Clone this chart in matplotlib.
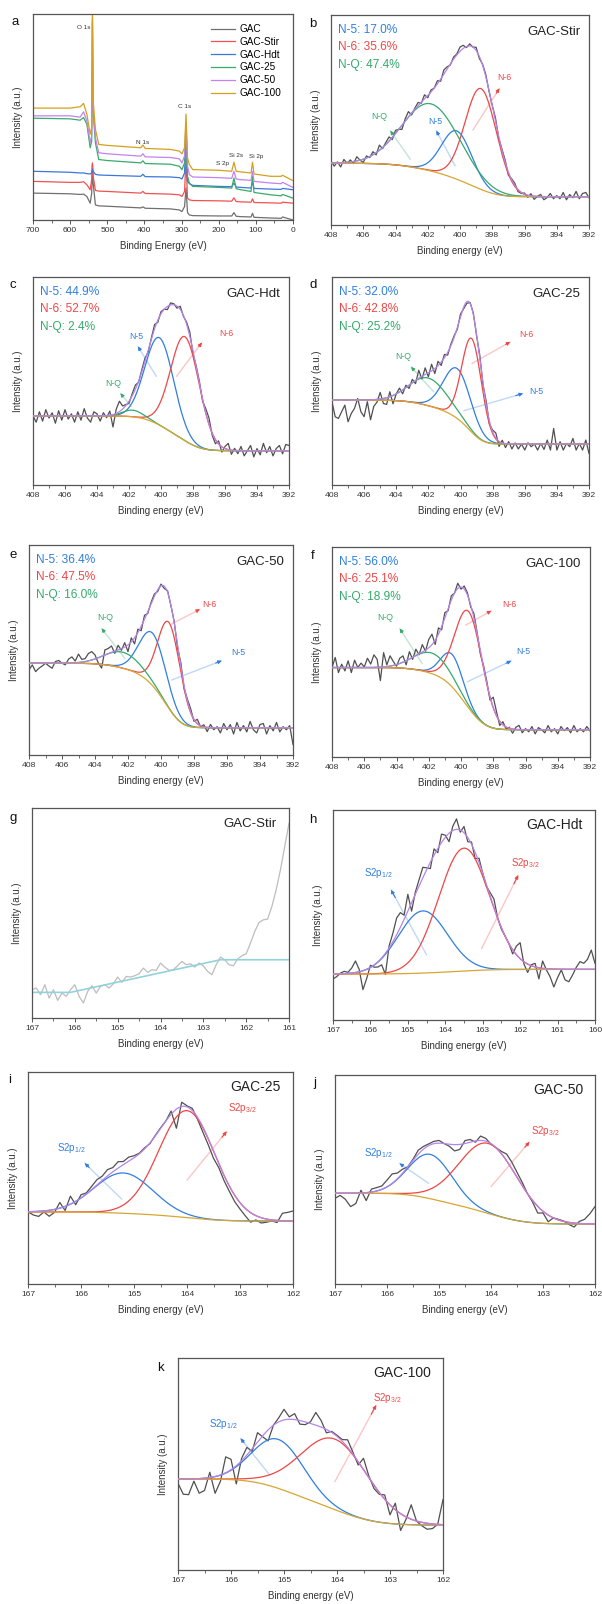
import numpy as np
import matplotlib
matplotlib.use('Agg')
import matplotlib.pyplot as plt
from matplotlib.ticker import MultipleLocator

plt.rcParams['font.family'] = ['Liberation Sans', 'DejaVu Sans']
plt.rcParams['mathtext.fontset'] = 'custom'
plt.rcParams['mathtext.rm'] = 'Liberation Sans'

GRAY = '#505050'
BLUE = '#2f7ee0'
RED = '#ef4646'
GREEN = '#36a96c'
PURPLE = '#b685e6'
GOLD = '#d6a630'

# ---------- panel a: survey spectra ----------
survey_be = [700, 600, 573, 564, 555, 546, 542, 540, 538, 532, 523, 500, 410, 404, 398, 330,
             306, 299, 292, 288, 284, 279, 270, 200, 165, 159, 153, 140, 113, 109, 105, 60, 32, 28, 0]
gac = [80, 78, 76, 77, 70, 50, 80, 165, 110, 45, 42, 41, 36, 39, 35, 33, 30, 25, 40, 95,
       22, 15, 13, 12, 12, 22, 11, 10, 9, 20, 8, 6, 5, 9, 0]
gac_stir = [115, 112, 112, 114, 105, 90, 120, 170, 130, 88, 86, 85, 80, 85, 79, 77, 75, 70, 85, 180,
            65, 60, 58, 57, 56, 66, 55, 54, 53, 63, 52, 51, 50, 53, 50]
gac_hdt = [145, 142, 140, 140, 138, 137, 140, 150, 145, 136, 134, 133, 130, 136, 129, 128, 126, 122, 140, 250,
           115, 108, 103, 100, 99, 110, 98, 97, 95, 115, 94, 92, 91, 94, 90]
gac_25 = [303, 301, 297, 305, 285, 215, 235, 590, 320, 230, 180, 177, 170, 176, 168, 166, 160, 150, 170, 280,
          130, 110, 100, 97, 95, 125, 93, 90, 85, 130, 82, 75, 72, 76, 65]
gac_50 = [310, 310, 306, 322, 295, 230, 250, 600, 330, 245, 200, 197, 190, 197, 188, 186, 182, 170, 190, 290,
          160, 135, 128, 126, 124, 145, 122, 120, 118, 145, 115, 110, 108, 112, 97]
gac_100 = [333, 333, 337, 347, 315, 255, 275, 640, 355, 270, 225, 222, 215, 223, 213, 210, 205, 197, 215, 315,
           185, 165, 150, 148, 145, 172, 145, 143, 140, 172, 137, 130, 130, 133, 117]
survey_names = ['GAC', 'GAC-Stir', 'GAC-Hdt', 'GAC-25', 'GAC-50', 'GAC-100']
survey_colors = ['#707070', '#f05252', '#3a78d8', '#3aaa6a', '#c282f0', '#d4a020']
peak_names = ['O 1s', 'N 1s', 'C 1s', 'S 2p', 'Si 2s', 'Si 2p']
peak_be = [564, 406, 292, 190, 152, 98]
peak_y = [573, 230, 337, 167, 192, 190]

# ---------- N 1s panels (b-f): residual noise of raw data, % of axis height, 408 -> 392 eV ----------
b_res = [1, -1.5, 0.5, -2, 1.5, -0.5, 1, -1, 2, 0,
         -1.5, 1, -0.5, 1.5, -1, 2.5, -0.5, 1, 2, -1,
         1.5, 0, -2, 1, 2.5, -1, 0.5, 1.5, -0.5, 2,
         -1, 1, 0, 1.5, -1, 2, 1, -0.5, 1, 0.5,
         2, 1.5, -0.5, 1, 0, 1.5, -1, 0.5, 1, -0.5,
         0, 1.5, -1, 0.5, 1, -1.5, 0.5, 1, -1, -0.5,
         0.5, -1, 1, -1.5, 0, 1, -1.5, -0.5, 1.5, -1,
         0.5, -1, 2, -1.5, 1, -0.5, 2.5, -1, 1.5, 2,
         -0.5]
c_res = [0, -3, 2, -2.5, 3, -1, 1.5, -3.5, 2.5, -2,
         3, -1.5, 1, -3, 2, -2, 3.5, -1, -3, 2,
         1, -2.5, 1.5, -1, 2, -6, 2, 5, 1.5, 0.5,
         -1, 1, 2, -0.5, 1, 1.5, -1, 0.5, 2, -1,
         1, 0, -1.5, 1, 0.5, -1, 1.5, -0.5, 1, 2,
         -1.5, 0.5, 1, -1, 2, 3, -1, -2, 1.5, -2.5,
         1, 3, -2, 1, -1.5, 2, -2.5, 0, 2.5, -3,
         1, -2, 3.5, -1, 2, -2.5, 1, 2.5, -1.5, 3,
         2.5]
d_res = [-0.8, -8, -8.8, -5.6, -2.4, -10.4, -6.4, -4, 0.8, -5.6,
         -8, -0.8, -9.6, -3.2, -1.3, 3.2, -2.4, -3.2, 2.4, -4,
         0, 1.9, -1.9, 1.1, -1.6, 1.6, -1.6, 3.8, -1.3, 3.2,
         -1.9, 3.2, -2.4, 2.1, -1.6, 1.6, -1.3, 0.8, 0.8, -0.8,
         1.3, -0.8, -0.8, 0.5, 0.8, -0.8, 1.6, -0.8, 1.6, -1.6,
         0.8, 2.4, -2.4, 1.3, -1.9, 1.1, -2.4, 0.5, -2.4, 0,
         -2.9, 0.6, -1.3, 0, -2.9, 0.3, -2.6, 1.9, -2.9, 7.5,
         -2.9, 1.1, -2.9, 0.3, -1.3, 2.7, -2.9, 0.3, -2.9, 1.9,
         -4.5]
e_res = [-3.2, -0.8, -4, -2.4, -1.3, 0, -1.3, -2.4, 0.8, 1.3,
         0, -0.8, 1.9, 2.9, 0.8, 4, 1.3, 1.4, 3.5, 4,
         1.9, -2.5, -5.6, 2.4, 2.4, 3, -1.1, 2.2, -0.8, 2.1,
         -3.2, 1.9, -2.9, 1.6, -2.1, 1.9, -0.8, 0.8, 1.1, -0.8,
         0.8, -1.1, 0.8, -0.3, 0.8, -1.6, 1.6, -1.6, 0.8, 1.5,
         -1, 2, -0.5, 1, -2, 1.5, -1, 0.5, -2.5, 2,
         -1, 1.5, -3, 2.5, -1.5, 1, -2, 3, -1, -2.5,
         1.5, 2, -3, 1, -1.5, 2.5, -2, 0.5, -1, 1,
         -8]
f_res = [0, 4.8, -2.4, 1.6, -1.6, 3.2, -2.4, 3.5, 0, 2.1,
         0.3, 4.4, 1.6, 6, 3.8, -6.4, 6.8, 0.8, 4.9, 1.9,
         -0.8, 2.5, 3, -2, 3.5, -1, 3, -0.5, 3.5, -0.5,
         4, 5, -2, 3, -1.5, 2.5, -1, 2, 0, 2.5,
         -1, 1.5, 1, -1, 2, 0.5, -1.5, 1, 1, -1.5,
         5, 2, -2, 1.5, -1, 0.5, -2, 1, 2, -1.5,
         0.5, -1, 1.5, -2, 1, 0, -1.5, 2, -1, 0.5,
         -2, 1.5, -0.5, 1, -1.5, 2, -1, 0.5, -1, 1.5,
         -0.5]
# background (high-BE level, low-BE level) and peaks (centre eV, FWHM eV, height %)
b_bg, b_n5, b_n6, b_nq = (29.4, 13.5), (400.2, 2.2, 23), (398.7, 2.3, 48), (401.8, 4.2, 32)
c_bg, c_n5, c_n6, c_nq = (33.2, 16.5), (400.1, 2.1, 42), (398.5, 2.1, 50), (401.75, 1.5, 3.2)
d_bg, d_n5, d_n6, d_nq = (40.8, 19.7), (400.2, 2.0, 24), (399.3, 1.45, 45), (402.0, 2.8, 13.3)
e_bg, e_n5, e_n6, e_nq = (43.7, 13.0), (400.5, 1.9, 25), (399.5, 1.6, 41), (402.3, 2.6, 7.6)
f_bg, f_n5, f_n6, f_nq = (42.6, 13.0), (400.55, 1.6, 15.5), (399.5, 2.0, 46), (401.8, 2.7, 9.8)
b_pct = ['N-5: 17.0%', 'N-6: 35.6%', 'N-Q: 47.4%']
c_pct = ['N-5: 44.9%', 'N-6: 52.7%', 'N-Q: 2.4%']
d_pct = ['N-5: 32.0%', 'N-6: 42.8%', 'N-Q: 25.2%']
e_pct = ['N-5: 36.4%', 'N-6: 47.5%', 'N-Q: 16.0%']
f_pct = ['N-5: 56.0%', 'N-6: 25.1%', 'N-Q: 18.9%']
# annotation: label, colour, text pos, arrow tail, arrow head
b_notes = [('N-6', RED, (397.26, 70.3), (399.2, 45.2), (397.55, 65.1)),
           ('N-Q', GREEN, (404.98, 51.6), (403.08, 31.3), (404.32, 44.9)),
           ('N-5', BLUE, (401.55, 49.2), (400.3, 28.1), (401.47, 44.9))]
c_notes = [('N-5', BLUE, (401.54, 71.4), (400.29, 52.2), (401.44, 66.6)),
           ('N-6', RED, (395.92, 72.7), (399.04, 52.2), (397.44, 68.5)),
           ('N-Q', GREEN, (403.0, 49.0), (401.85, 37.7), (402.54, 44.1))]
d_notes = [('N-6', RED, (395.9, 72.5), (399.29, 58.4), (396.9, 68.8)),
           ('N-Q', GREEN, (403.54, 61.9), (401.67, 44.8), (403.08, 56.8)),
           ('N-5', BLUE, (395.28, 44.8), (399.8, 35.7), (396.11, 44.0))]
e_notes = [('N-6', RED, (397.07, 71.9), (399.36, 62.4), (397.64, 69.4)),
           ('N-Q', GREEN, (403.4, 65.4), (402.19, 46.0), (403.6, 60.3)),
           ('N-5', BLUE, (395.31, 48.7), (399.36, 35.7), (396.32, 44.9))]
f_notes = [('N-6', RED, (397.03, 72.7), (399.72, 62.8), (398.12, 69.6)),
           ('N-Q', GREEN, (404.69, 66.2), (402.41, 44.5), (403.8, 61.2)),
           ('N-5', BLUE, (396.14, 50.1), (399.61, 35.8), (396.88, 45.8))]

# ---------- S 2p panels ----------
g_raw = [85, 90, 70, 100, 60, 85, 53, 75, 65, 85,
         100, 65, 45, 80, 97, 75, 95, 100, 90, 103,
         123, 107, 125, 123, 127, 133, 150, 137, 145, 143,
         165, 153, 143, 145, 157, 170, 160, 163, 153, 165,
         157, 140, 130, 160, 183, 175, 160, 157, 177, 187,
         193, 225, 260, 287, 295, 297, 335, 385, 445, 515,
         585]
g_base_be = [167, 166.1, 162.6, 161]
g_base_y = [77, 77, 175, 175]

h_res = [-2.4, -1.3, 0.3, 1.1, 0.5, 2.4, 5.5, 1.1, -9, -4.4,
         1, -1.1, -2.5, -3.3, -10, 1, 4, 8, 7, 2,
         8, -4, 1, 3, 5, 1, -3, 3, -2, 4,
         1, -4, 2, 5, -1, 3, -2, 1, -3, 2,
         0, -0.8, 1.6, 4, 0, -0.8, 0, 0, -2, 4.1,
         7.6, -1, -4, 0.5, 1.7, -5.3, 3.5, -0.5, -3.7, -8.5,
         -4, -0.3, -5, -5.9, -2.7, 1, 3.7, 2.9, 4.8, 9.2,
         2.9]
i_res = [0, -1.6, -2.4, -0.5, -2.8, -1.4, 2.7, -1.9, 3.8, -1.6,
         1.5, 0.5, 1.5, 2.5, 2, 3, 2, 3, 1.5, 2,
         1, 0.3, 0.5, -0.3, 0.3, 0.3, 0, 1.5, -9, 2,
         0.5, 1, -1, -2.5, -3, -3.5, -2, -2.5, -2.5, -3,
         -3, -3.5, -4.5, -2, -2.5, -1.5, -0.5, -1, 3.5, 4,
         4.7]
j_res = [-2.4, -1, -2.9, -6.4, -5, 1.3, -3.8, 1.4, 1.6, 1.6,
         3.2, 4.5, 2.7, 1.9, 0, 0.5, 1.9, 1.3, 0.8, 1.1,
         1.3, 0, -1, -3, -2.4, 1.4, 1.3, -0.6, 2.1, 1.3,
         -0.3, 0, 1, 3.2, 3.2, 2.4, 1.6, 0, -0.8, -3.2,
         -0.8, -3.2, 0, 0.3, 0.2, -1, -1.9, 1, 2.1, 4.8,
         8.3]
k_res = [-2, -7.2, -7.4, -1.1, -6.9, -5.8, 2.5, -7.9, -3, 7.5,
         4.9, -8.6, 1.1, 3.6, -1.3, 4.4, -0.6, -5.2, 0, 1.9,
         5, 1.1, 2.8, -1.7, -1.3, 0.8, 6, 3.1, -1.6, 0.5,
         0.5, 0.8, 3.5, 0.9, -1.6, 5.3, 0.8, -1.6, -0.8, 2,
         -4.7, 3.1, -7.9, -1.3, 6.8, 0, -1.6, -2.8, -2.2, 0,
         11.8]
h_bg, h_s12, h_s32 = (21.9, 24.1), (164.6, 1.55, 29.6), (163.5, 1.6, 58.5)
i_bg, i_s12, i_s32 = (34.0, 29.7), (165.2, 1.3, 19.0), (164.0, 1.25, 50.5)
j_bg, j_s12, j_s32 = (43.4, 28.7), (165.17, 1.0, 21.2), (164.05, 1.32, 33.5)
k_bg, k_s12, k_s32 = (42.9, 21.2), (165.11, 1.15, 23.1), (164.04, 1.5, 33.3)
S12 = r'S2p$_{\mathregular{1/2}}$'
S32 = r'S2p$_{\mathregular{3/2}}$'
h_notes = [(S12, BLUE, (165.8, 70), (164.5, 31), (165.45, 62)),
           (S32, RED, (161.85, 75), (163.03, 34), (162.05, 69))]
i_notes = [(S12, BLUE, (166.18, 64), (165.23, 40), (165.93, 57)),
           (S32, RED, (162.95, 83), (164.0, 49), (163.25, 72))]
j_notes = [(S12, BLUE, (166.17, 62.5), (165.2, 48.2), (165.76, 57.7)),
           (S32, RED, (162.96, 73), (164.0, 46.6), (163.26, 68))]
k_notes = [(S12, BLUE, (166.14, 68.9), (165.27, 44.8), (165.82, 62.1)),
           (S32, RED, (163.06, 81), (164.04, 41.7), (163.26, 77.8))]

W, H = 602, 1604
fig = plt.figure(figsize=(W / 100, H / 100), dpi=100)


def add_ax(l, t, w, h):
    return fig.add_axes([l / W, 1 - (t + h) / H, w / W, h / H])


def gauss(x, c, w, h):
    return h * np.exp(-4 * np.log(2) * ((x - c) / w) ** 2)


def shirley(signal, high, low):
    cum = np.cumsum(signal[::-1])[::-1]
    return low + (high - low) * cum / cum[0]


def style(ax, xlim, major, minor, ylim=(0, 100), xlabel='Binding energy (eV)'):
    wpx = ax.get_position().width * W
    hpx = ax.get_position().height * H
    ax.set_xlim(*xlim)
    ax.set_ylim(*ylim)
    ax.xaxis.set_major_locator(MultipleLocator(major))
    ax.xaxis.set_minor_locator(MultipleLocator(minor))
    ax.set_yticks([])
    ax.tick_params(axis='x', which='major', direction='out', length=3, width=0.7,
                   labelsize=6.1, pad=2.2, color='#555', labelcolor='#333')
    ax.tick_params(axis='x', which='minor', direction='out', length=1.8, width=0.6, color='#555')
    for s in ax.spines.values():
        s.set_color('#555')
        s.set_linewidth(0.9)
    ax.set_xlabel(xlabel, fontsize=7, color='#333')
    ax.xaxis.set_label_coords(0.5, -21 / hpx)
    ax.set_ylabel('Intensity (a.u.)', fontsize=7, color='#333')
    ax.yaxis.set_label_coords(-10 / wpx, 0.5)


def arrow(ax, tail, head, color):
    ax.annotate('', xy=head, xytext=tail,
                arrowprops=dict(arrowstyle='-', color=color, alpha=0.3, lw=1.0, shrinkA=0, shrinkB=0))
    near = (head[0] + (tail[0] - head[0]) * 0.12, head[1] + (tail[1] - head[1]) * 0.12)
    ax.annotate('', xy=head, xytext=near,
                arrowprops=dict(arrowstyle='-|>', color=color, lw=0.8, mutation_scale=5,
                                shrinkA=0, shrinkB=0))


def title(ax, text, dx, dy, size):
    wpx = ax.get_position().width * W
    hpx = ax.get_position().height * H
    ax.text(1 - dx / wpx, 1 - dy / hpx, text, transform=ax.transAxes,
            ha='right', va='center', fontsize=size, color='#222')


def fit_panel(ax, x0, x1, res, bg, peaks, colors, notes, lab_size):
    step = 10
    x = np.linspace(x0, x1, (len(res) - 1) * step + 1)
    comps = [gauss(x, *p) for p in peaks]
    tot = np.sum(comps, axis=0)
    base = shirley(tot, *bg)
    env = base + tot
    ax.plot(x[::step], env[::step] + np.array(res), color=GRAY, lw=0.9, zorder=2)
    for comp, col in zip(comps, colors):
        ax.plot(x, base + comp, color=col, lw=0.9, zorder=3)
    ax.plot(x, base, color=GOLD, lw=0.9, zorder=4)
    ax.plot(x, env, color=PURPLE, lw=0.9, zorder=5)
    for lab, col, txy, tail, head in notes:
        ax.text(txy[0], txy[1], lab, color=col, fontsize=lab_size, ha='center', va='center')
        arrow(ax, tail, head, col)


# ----- a -----
ax = add_ax(33, 14, 260, 206)
for series, name, col in zip([gac, gac_stir, gac_hdt, gac_25, gac_50, gac_100], survey_names, survey_colors):
    ax.plot(survey_be, series, color=col, lw=0.9, label=name)
for name, px, py in zip(peak_names, peak_be, peak_y):
    ax.text(px, py, name, fontsize=4.6, color='#333', ha='center', va='center')
style(ax, (700, 0), 100, 50, ylim=(0, 613), xlabel='Binding Energy (eV)')
ax.legend(loc='upper right', bbox_to_anchor=(1 - 5 / 260, 1 - 3 / 206), frameon=False, fontsize=7.2,
          handlelength=2.4, handletextpad=0.45, labelspacing=0.28, borderpad=0.2)

# ----- b-f -----
n_specs = [
    ((331, 15, 258, 210), b_res, b_bg, b_n5, b_n6, b_nq, b_pct, b_notes, 'GAC-Stir'),
    ((33, 277, 256, 208), c_res, c_bg, c_n5, c_n6, c_nq, c_pct, c_notes, 'GAC-Hdt'),
    ((332, 277, 257, 208), d_res, d_bg, d_n5, d_n6, d_nq, d_pct, d_notes, 'GAC-25'),
    ((29, 545, 264, 210), e_res, e_bg, e_n5, e_n6, e_nq, e_pct, e_notes, 'GAC-50'),
    ((332, 547, 258, 210), f_res, f_bg, f_n5, f_n6, f_nq, f_pct, f_notes, 'GAC-100'),
]
for box, res, bg, n5, n6, nq, pct, notes, name in n_specs:
    ax = add_ax(*box)
    fit_panel(ax, 408, 392, res, bg, [n5, n6, nq], [BLUE, RED, GREEN], notes, 6.3)
    style(ax, (408, 392), 2, 1)
    wpx, hpx = box[2], box[3]
    for i, (txt, col) in enumerate(zip(pct, [BLUE, RED, GREEN])):
        ax.text(7 / wpx, 1 - (15 + 17.5 * i) / hpx, txt, transform=ax.transAxes,
                color=col, fontsize=8.6, ha='left', va='center')
    title(ax, name, 9, 17, 9.5)

# ----- g -----
ax = add_ax(32, 808, 257, 210)
ax.plot(np.linspace(167, 161, len(g_raw)), g_raw, color='#bdbdbd', lw=0.9)
ax.plot(g_base_be, g_base_y, color='#92d2dc', lw=1.2)
style(ax, (167, 161), 1, 0.5, ylim=(0, 631))
title(ax, 'GAC-Stir', 12, 16, 9.5)

# ----- h-k -----
s_specs = [
    ((333, 810, 262, 210), 160, h_res, h_bg, h_s12, h_s32, h_notes, 'GAC-Hdt'),
    ((28, 1072, 265, 212), 162, i_res, i_bg, i_s12, i_s32, i_notes, 'GAC-25'),
    ((335, 1075, 260, 209), 162, j_res, j_bg, j_s12, j_s32, j_notes, 'GAC-50'),
    ((178, 1358, 265, 212), 162, k_res, k_bg, k_s12, k_s32, k_notes, 'GAC-100'),
]
for box, xend, res, bg, s12, s32, notes, name in s_specs:
    ax = add_ax(*box)
    fit_panel(ax, 167, xend, res, bg, [s12, s32], [BLUE, RED], notes, 7)
    style(ax, (167, xend), 1, 0.5)
    title(ax, name, 12, 15, 10)

# panel letters
for letter, px, py in [('a', 15, 22), ('b', 313, 24), ('c', 13, 285), ('d', 313, 285),
                       ('e', 13, 555), ('f', 313, 556), ('g', 13, 818), ('h', 313, 820),
                       ('i', 10, 1080), ('j', 315, 1083), ('k', 160, 1368)]:
    fig.text(px / W, 1 - py / H, letter, fontsize=9.5, ha='center', va='center', color='#111')

fig.savefig('out.png', dpi=100)
